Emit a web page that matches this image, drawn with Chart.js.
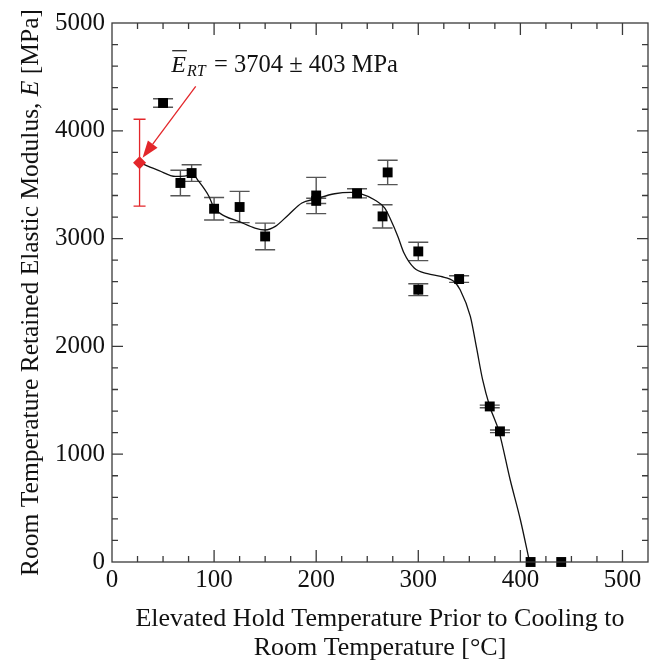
<!DOCTYPE html>
<html><head><meta charset="utf-8">
<script src="https://cdn.jsdelivr.net/npm/chart.js@4.4.1/dist/chart.umd.min.js"></script>
<style>html,body{margin:0;padding:0;background:#fff}</style>
</head><body>
<canvas id="c" width="655" height="660"></canvas>
<script>
// ---- data ----
const xTicks = [0, 100, 200, 300, 400, 500];
const yTicks = [0, 1000, 2000, 3000, 4000, 5000];

const rtX = [27];
const rtY = [3704];
const rtErr = [403];

const tempX  = [50, 67, 78, 100, 125, 150, 200, 200, 240, 265, 270, 300, 300, 340, 370, 380, 410, 440];
const modY   = [4258, 3516, 3608, 3277, 3293, 3020, 3400, 3350, 3420, 3206, 3614, 2881, 2526, 2625, 1443, 1212, 0, 0];
const modErr = [40, 118, 77, 104, 145, 124, 168, 25, 42, 108, 113, 85, 55, 31, 12, 12, 0, 0];

const fitX = [27, 46, 62, 71, 79, 85, 95, 100, 111, 124, 140, 150, 160, 173, 186, 199, 218, 234, 244, 257, 267, 273, 280, 286, 296, 309, 322, 335, 341, 351, 357, 363, 370, 379, 390, 400, 409];
const fitY = [3704, 3631, 3577, 3580, 3593, 3530, 3391, 3284, 3206, 3160, 3098, 3080, 3113, 3222, 3330, 3367, 3416, 3429, 3416, 3361, 3284, 3175, 3020, 2866, 2727, 2675, 2649, 2603, 2526, 2278, 1990, 1691, 1443, 1212, 763, 392, 0];

const annoText = '= 3704 \u00B1 403 MPa';
const xTitle = ['Elevated Hold Temperature Prior to Cooling to', 'Room Temperature [\u00B0C]'];
const yTitleParts = ['Room Temperature Retained Elastic Modulus, ', 'E', ' [MPa]'];

// ---- styling ----
const FONT = "'Liberation Serif','Times New Roman',serif";
const RED = '#e3262a';
const AXIS = '#3a3a3a';

const overlay = {
  id: 'overlay',
  beforeDatasetsDraw(chart) {
    const {ctx, scales: {x, y}} = chart;
    ctx.save();
    ctx.strokeStyle = '#555';
    ctx.lineWidth = 1.4;
    tempX.forEach((t, i) => {
      const e = modErr[i];
      if (!e) return;
      const px = x.getPixelForValue(t);
      const top = y.getPixelForValue(modY[i] + e);
      const bot = y.getPixelForValue(modY[i] - e);
      ctx.beginPath();
      ctx.moveTo(px, top); ctx.lineTo(px, bot);
      ctx.moveTo(px - 10, top); ctx.lineTo(px + 10, top);
      ctx.moveTo(px - 10, bot); ctx.lineTo(px + 10, bot);
      ctx.stroke();
    });
    ctx.strokeStyle = RED;
    ctx.lineWidth = 1.3;
    rtX.forEach((t, i) => {
      const px = x.getPixelForValue(t);
      const top = y.getPixelForValue(rtY[i] + rtErr[i]);
      const bot = y.getPixelForValue(rtY[i] - rtErr[i]);
      ctx.beginPath();
      ctx.moveTo(px, top); ctx.lineTo(px, bot);
      ctx.moveTo(px - 6, top); ctx.lineTo(px + 6, top);
      ctx.moveTo(px - 6, bot); ctx.lineTo(px + 6, bot);
      ctx.stroke();
    });
    ctx.restore();
  },
  afterDraw(chart) {
    const {ctx, chartArea: a, scales: {x, y}} = chart;
    ctx.save();
    // frame
    ctx.strokeStyle = AXIS;
    ctx.lineWidth = 1.3;
    ctx.strokeRect(a.left, a.top, a.right - a.left, a.bottom - a.top);
    // inward ticks
    ctx.beginPath();
    for (let v = 25; v < x.max; v += 25) {
      const px = x.getPixelForValue(v);
      const len = v % 100 === 0 ? 12 : 6;
      ctx.moveTo(px, a.bottom); ctx.lineTo(px, a.bottom - len);
      ctx.moveTo(px, a.top); ctx.lineTo(px, a.top + len);
    }
    for (let v = 200; v < y.max; v += 200) {
      const py = y.getPixelForValue(v);
      const len = v % 1000 === 0 ? 11 : 6;
      ctx.moveTo(a.left, py); ctx.lineTo(a.left + len, py);
      ctx.moveTo(a.right, py); ctx.lineTo(a.right - len, py);
    }
    ctx.stroke();

    // x title
    ctx.fillStyle = '#111';
    ctx.font = '26px ' + FONT;
    ctx.textAlign = 'center';
    ctx.textBaseline = 'alphabetic';
    const cx = (a.left + a.right) / 2;
    ctx.fillText(xTitle[0], cx, 626);
    ctx.fillText(xTitle[1], cx, 655);

    // y title (rotated, mixed italics)
    ctx.save();
    const cy = (a.top + a.bottom) / 2;
    ctx.translate(38, cy);
    ctx.rotate(-Math.PI / 2);
    ctx.textAlign = 'left';
    const fonts = ['25.5px ' + FONT, 'italic 25.5px ' + FONT, '25.5px ' + FONT];
    let total = 0;
    const widths = yTitleParts.map((s, i) => { ctx.font = fonts[i]; const w = ctx.measureText(s).width; total += w; return w; });
    let sx = -total / 2;
    yTitleParts.forEach((s, i) => { ctx.font = fonts[i]; ctx.fillText(s, sx, 0); sx += widths[i]; });
    ctx.restore();

    // annotation arrow
    const tipX = x.getPixelForValue(rtX[0]) + 3;
    const tipY = y.getPixelForValue(rtY[0]) - 5;
    const sX = x.getPixelForValue(82), sY = y.getPixelForValue(4412);
    const ang = Math.atan2(tipY - sY, tipX - sX);
    ctx.strokeStyle = RED;
    ctx.fillStyle = RED;
    ctx.lineWidth = 1.3;
    const hl = 17, hw = 6;
    const bx = tipX - hl * Math.cos(ang), by = tipY - hl * Math.sin(ang);
    ctx.beginPath(); ctx.moveTo(sX, sY); ctx.lineTo(bx, by); ctx.stroke();
    ctx.beginPath();
    ctx.moveTo(tipX, tipY);
    ctx.lineTo(bx + hw * Math.sin(ang), by - hw * Math.cos(ang));
    ctx.lineTo(bx - hw * Math.sin(ang), by + hw * Math.cos(ang));
    ctx.closePath(); ctx.fill();

    // annotation text
    const ax = x.getPixelForValue(58), ay = y.getPixelForValue(4548);
    ctx.fillStyle = '#111';
    ctx.strokeStyle = '#111';
    ctx.textAlign = 'left';
    ctx.font = 'italic 24px ' + FONT;
    ctx.fillText('E', ax, ay);
    const ew = ctx.measureText('E').width;
    ctx.lineWidth = 1.2;
    ctx.beginPath(); ctx.moveTo(ax + 1, ay - 21); ctx.lineTo(ax + ew + 1, ay - 21); ctx.stroke();
    ctx.font = 'italic 16px ' + FONT;
    ctx.fillText('RT', ax + ew + 1, ay + 4);
    ctx.font = '24.5px ' + FONT;
    ctx.fillText(annoText, x.getPixelForValue(100), ay);
    ctx.restore();
  }
};

const toPts = (xs, ys) => xs.map((v, i) => ({x: v, y: ys[i]}));

new Chart(document.getElementById('c'), {
  type: 'scatter',
  data: {
    datasets: [
      {
        type: 'line', data: toPts(fitX, fitY), borderColor: '#111', borderWidth: 1.3,
        pointRadius: 0, cubicInterpolationMode: 'monotone', fill: false, order: 3, clip: false
      },
      {
        data: toPts(tempX, modY), pointStyle: 'rect', pointRadius: 7,
        backgroundColor: '#000', borderColor: '#000', borderWidth: 0, order: 1, clip: false
      },
      {
        data: toPts(rtX, rtY), pointStyle: 'rectRot', pointRadius: 6.5,
        backgroundColor: RED, borderColor: RED, borderWidth: 0, order: 0, clip: false
      }
    ]
  },
  options: {
    responsive: false, animation: false, devicePixelRatio: 1,
    layout: {padding: {top: 23, right: 4, left: 0, bottom: 0}},
    plugins: {legend: {display: false}, tooltip: {enabled: false}},
    scales: {
      x: {
        type: 'linear', min: 0, max: 525,
        afterBuildTicks: s => { s.ticks = xTicks.map(v => ({value: v})); },
        afterFit: s => { s.height = 98; },
        grid: {display: false, drawTicks: false},
        border: {display: false},
        ticks: {color: '#111', font: {family: FONT, size: 25}, padding: 3, maxRotation: 0, autoSkip: false,
                callback: v => String(v)}
      },
      y: {
        type: 'linear', min: 0, max: 5000,
        afterBuildTicks: s => { s.ticks = yTicks.map(v => ({value: v})); },
        afterFit: s => { s.width = 112; },
        grid: {display: false, drawTicks: false},
        border: {display: false},
        ticks: {color: '#111', font: {family: FONT, size: 25}, padding: 7, autoSkip: false,
                callback: v => String(v)}
      }
    }
  },
  plugins: [overlay]
});
</script>
</body></html>
